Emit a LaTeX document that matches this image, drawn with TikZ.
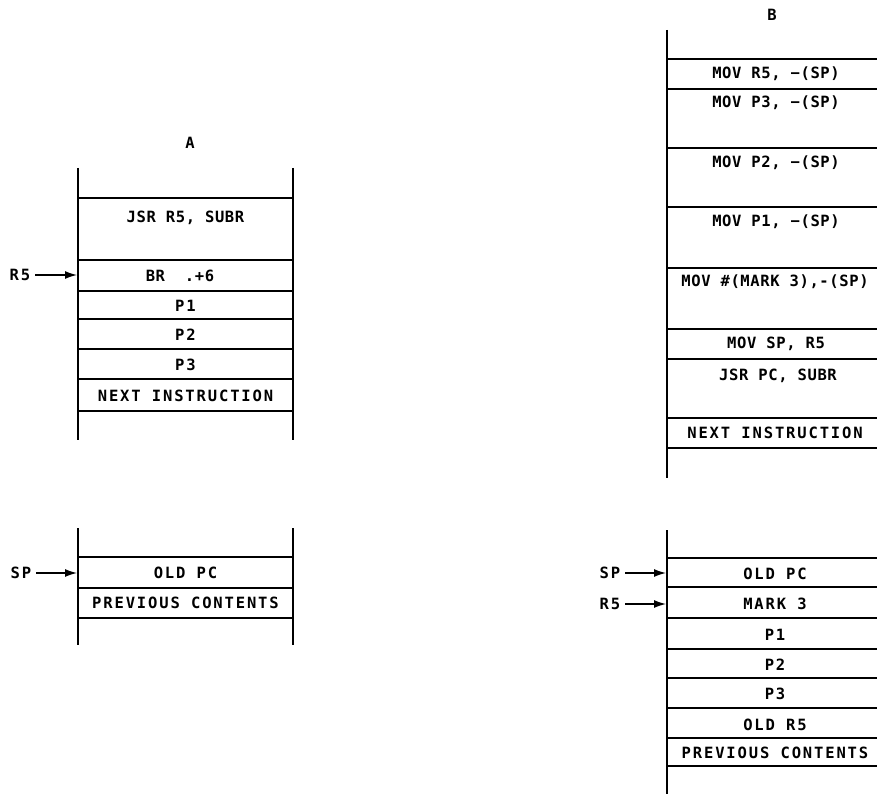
\documentclass[tikz,border=0pt]{standalone}
\usepackage{fontspec}
\newfontfamily\lettering[LetterSpace=12]{DejaVu Sans Mono}
\newfontfamily\tightlettering[LetterSpace=4]{DejaVu Sans Mono}
\usetikzlibrary{arrows.meta}
\tikzstyle{every node}=[inner sep=0pt,font=\lettering\bfseries\fontsize{15.5}{15.5}\selectfont]
\tikzstyle{tight}=[font=\tightlettering\bfseries\fontsize{15.5}{15.5}\selectfont]
\tikzstyle{wall}=[line width=2.8pt]
\tikzstyle{rule}=[line width=1.4pt]
\tikzstyle{ptr}=[line width=1.3pt,-{Latex[length=12pt,width=8pt]}]

\begin{document}
\begin{tikzpicture}[x=1pt,y=-1pt]
\useasboundingbox (0,0) rectangle (877,794);
\node (titleA) at (190,143) {A};
\draw[wall] (78,168)--(78,440);
\draw[wall] (293,168)--(293,440);
\foreach \y in {198,260,291,319,349,379,411} \draw[rule] (78,\y)--(293,\y);
\node[tight] (jsrA) at (185.5,218) {JSR R5, SUBR};
\node[tight] (brA) at (180,276) {BR\ \ .+6};
\node (pA1) at (185.5,306) {P1};
\node (pA2) at (185.5,335) {P2};
\node (pA3) at (185.5,365) {P3};
\node (nextA) at (185.5,396) {NEXT INSTRUCTION};
\node (rfiveA) at (20,275) {R5};
\coordinate (rfiveAwall) at (77,275);
\draw[ptr] ([xshift=5pt]rfiveA.east)--(rfiveAwall);

\draw[wall] (78,528)--(78,645);
\draw[wall] (293,528)--(293,645);
\foreach \y in {557,588,618} \draw[rule] (78,\y)--(293,\y);
\node (oldpcA) at (185.5,573) {OLD PC};
\node (prevA) at (185.5,603) {PREVIOUS CONTENTS};
\node (spA) at (21,573) {SP};
\coordinate (spAwall) at (77,573);
\draw[ptr] ([xshift=5pt]spA.east)--(spAwall);

\node (titleB) at (772,15) {B};
\draw[wall] (667,30)--(667,478);
\foreach \y in {59,89,148,207,268,329,359,418,448} \draw[rule] (667,\y)--(877,\y);
\node[tight] (movrB) at (776,74) {MOV R5, −(SP)};
\node[tight] (movpB3) at (776,103) {MOV P3, −(SP)};
\node[tight] (movpB2) at (776,163) {MOV P2, −(SP)};
\node[tight] (movpB1) at (776,222) {MOV P1, −(SP)};
\node[tight] (markB) at (775,282) {MOV \#(MARK 3),-(SP)};
\node[tight] (movspB) at (776,344) {MOV SP, R5};
\node[tight] (jsrB) at (778,376) {JSR PC, SUBR};
\node (nextB) at (775,433) {NEXT INSTRUCTION};

\draw[wall] (667,530)--(667,794);
\foreach \y in {558,587,618,649,678,708,738,766} \draw[rule] (667,\y)--(877,\y);
\node (oldpcB) at (775,574) {OLD PC};
\node (markthreeB) at (775,604) {MARK 3};
\node (pB1) at (775,635) {P1};
\node (pB2) at (775,665) {P2};
\node (pB3) at (775,694) {P3};
\node (oldrB) at (775,725) {OLD R5};
\node (prevB) at (775,753) {PREVIOUS CONTENTS};
\node (spB) at (610,573) {SP};
\coordinate (spBwall) at (666,573);
\draw[ptr] ([xshift=5pt]spB.east)--(spBwall);
\node (rfiveB) at (610,604) {R5};
\coordinate (rfiveBwall) at (666,604);
\draw[ptr] ([xshift=5pt]rfiveB.east)--(rfiveBwall);
\end{tikzpicture}
\end{document}
